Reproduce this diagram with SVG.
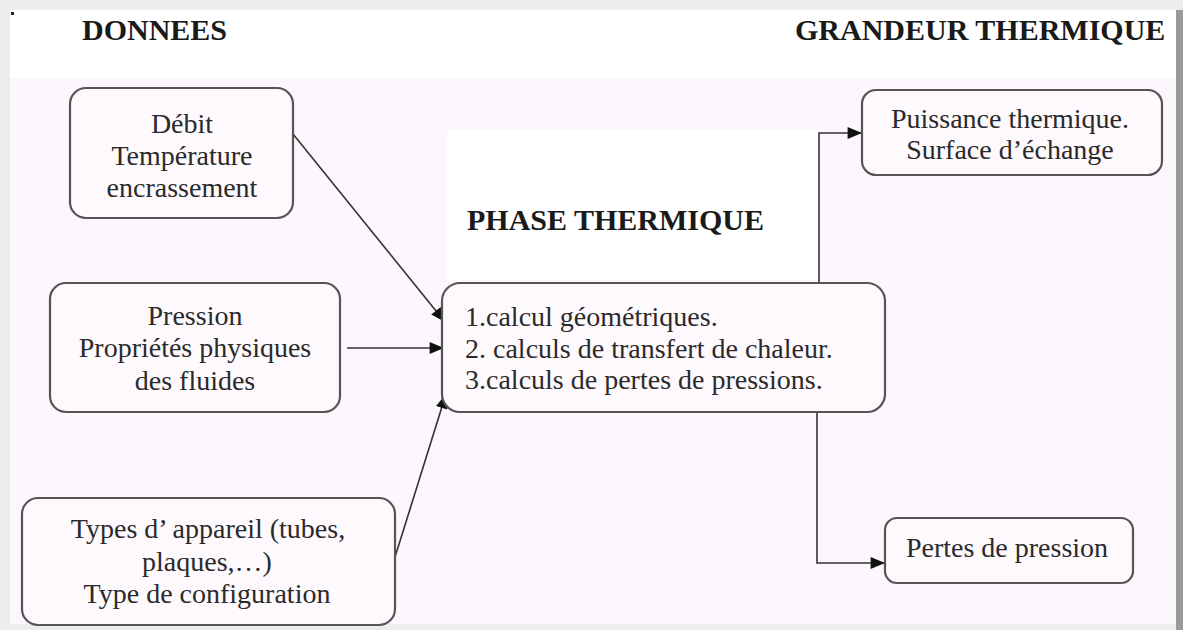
<svg xmlns="http://www.w3.org/2000/svg" width="1183" height="630" viewBox="0 0 1183 630">
<defs>
<marker id="arr" viewBox="0 0 12 10" refX="12" refY="5" markerWidth="15" markerHeight="12" markerUnits="userSpaceOnUse" orient="auto">
<path d="M0,0 L12,5 L0,10 Z" fill="#111"/>
</marker>
<style>
.box{fill:#fdf9fd;stroke:#555;stroke-width:2.2}
.t{font-family:"Liberation Serif","Times New Roman",serif;font-size:28px;fill:#2a2a2a}
.h{font-family:"Liberation Serif","Times New Roman",serif;font-size:30px;font-weight:bold;fill:#1a1a1a}
.c{text-anchor:middle}
.ln{fill:none;stroke:#333;stroke-width:1.6}
</style>
</defs>
<rect x="0" y="0" width="1183" height="630" fill="#ececec"/>
<rect x="10" y="10" width="1166" height="614" fill="#ffffff"/>
<rect x="10" y="78" width="1166" height="546" fill="#fcf7fc"/>
<rect x="447" y="130" width="373" height="150" fill="#ffffff"/>
<rect x="1176" y="10" width="7" height="620" fill="#9a9a9a"/>
<rect x="11" y="12" width="3" height="3" fill="#222"/>
<text class="h" x="82" y="40">DONNEES</text>
<text class="h" x="795" y="40">GRANDEUR THERMIQUE</text>
<text class="h" x="467" y="230">PHASE THERMIQUE</text>
<g id="connectors">
<line class="ln" x1="293" y1="134" x2="445" y2="322" marker-end="url(#arr)"/>
<line class="ln" x1="347" y1="348" x2="444" y2="348" marker-end="url(#arr)"/>
<line class="ln" x1="395" y1="557" x2="446" y2="394" marker-end="url(#arr)"/>
<polyline class="ln" points="819,283 819,133 862,133" marker-end="url(#arr)"/>
<polyline class="ln" points="817,412 817,563 885,563" marker-end="url(#arr)"/>
</g>
<g id="n-debit">
<rect class="box" x="70" y="88" width="223" height="130" rx="16"/>
<text class="t c" x="182" y="133">Débit</text>
<text class="t c" x="182" y="165">Température</text>
<text class="t c" x="182" y="197">encrassement</text>
</g>
<g id="n-pression">
<rect class="box" x="50" y="283" width="290" height="129" rx="16"/>
<text class="t c" x="195" y="325">Pression</text>
<text class="t c" x="195" y="357">Propriétés physiques</text>
<text class="t c" x="195" y="390">des fluides</text>
</g>
<g id="n-types">
<rect class="box" x="22" y="498" width="373" height="127" rx="16"/>
<text class="t c" x="208" y="538">Types d’ appareil (tubes,</text>
<text class="t c" x="207" y="571">plaques,…)</text>
<text class="t c" x="207" y="603">Type de configuration</text>
</g>
<g id="n-phase">
<rect class="box" x="442" y="283" width="443" height="129" rx="18"/>
<text class="t" x="465" y="326">1.calcul géométriques.</text>
<text class="t" x="465" y="358">2.  calculs de transfert de chaleur.</text>
<text class="t" x="465" y="389">3.calculs de pertes de pressions.</text>
</g>
<g id="n-puissance">
<rect class="box" x="862" y="90" width="300" height="85" rx="14"/>
<text class="t c" x="1010" y="128">Puissance thermique.</text>
<text class="t c" x="1010" y="159">Surface d’échange</text>
</g>
<g id="n-pertes">
<rect class="box" x="885" y="518" width="248" height="65" rx="12"/>
<text class="t c" x="1007" y="557">Pertes de pression</text>
</g>
</svg>
